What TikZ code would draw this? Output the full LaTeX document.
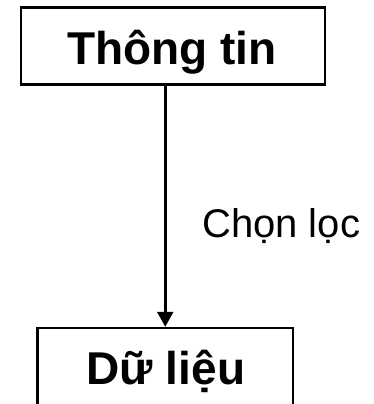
\documentclass[tikz,border=0pt]{standalone}
\usepackage{fontspec}
\setmainfont{Liberation Sans}
\usetikzlibrary{arrows.meta}
\begin{document}
\begin{tikzpicture}[x=1pt,y=1pt,
  box/.style={draw=black, line width=2.5pt, inner sep=0pt},
  bigtext/.style={font=\fontsize{46}{50}\selectfont\bfseries, inner sep=0pt, anchor=base},
  lbl/.style={font=\fontsize{40}{44}\selectfont, inner sep=0pt, anchor=base west},
  conn/.style={line width=2.5pt, -{Triangle[length=15pt,width=16pt]}}]
\useasboundingbox (0,0) rectangle (373,-404);
\node[box, minimum width=304pt, minimum height=77pt] (top) at (173,-46) {};
\node[bigtext] (toptext) at (172,-64) {Thông tin};
\node[box, minimum width=255.5pt, minimum height=85pt] (bot) at (165.25,-370.5) {};
\node[bigtext] (bottext) at (166,-384) {Dữ liệu};
\draw[conn] (top.south -| bot.north) -- (bot.north);
\node[lbl] (sel) at (202,-237) {Chọn lọc};
\end{tikzpicture}
\end{document}
